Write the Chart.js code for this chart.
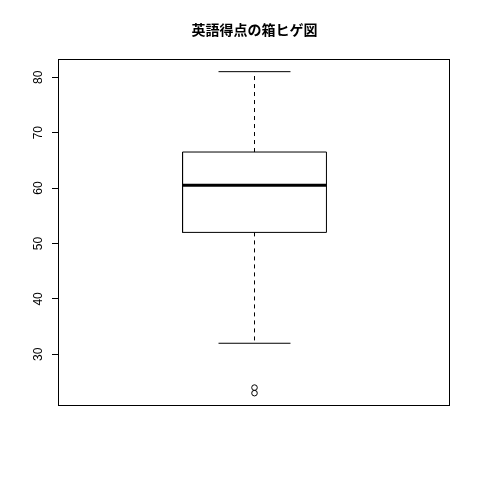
<!DOCTYPE html>
<html>
<head>
<meta charset="utf-8">
<script src="https://cdn.jsdelivr.net/npm/chart.js@4/dist/chart.umd.min.js"></script>
<style>
html,body{margin:0;padding:0;background:#fff;}
canvas{display:block;}
</style>
</head>
<body>
<canvas id="c" width="480" height="480"></canvas>
<script>
// ---- data ----
const chartTitle = '英語得点の箱ヒゲ図';
const categories = ['英語'];
const lowerWhisker = [32];
const q1 = [52];
const median = [60.5];
const q3 = [66.5];
const upperWhisker = [81];
const outliers = [[24, 23]];
const yTicks = [30, 40, 50, 60, 70, 80];
const yMin = 20.68;
const yMax = 83.32;

// ---- build datasets ----
const boxHalf = 0.184;
const capHalf = 0.092;
const datasets = [];
categories.forEach((cat, i) => {
  const c = i + 1;
  const lineBase = {showLine: true, pointRadius: 0, borderColor: '#000', borderWidth: 1, fill: false, borderCapStyle: 'butt', borderJoinStyle: 'miter'};
  datasets.push(Object.assign({}, lineBase, {label: cat + ' box', data: [
    {x: c - boxHalf, y: q1[i]}, {x: c + boxHalf, y: q1[i]}, {x: c + boxHalf, y: q3[i]},
    {x: c - boxHalf, y: q3[i]}, {x: c - boxHalf, y: q1[i]}]}));
  datasets.push(Object.assign({}, lineBase, {label: cat + ' median', borderWidth: 3, data: [
    {x: c - boxHalf, y: median[i]}, {x: c + boxHalf, y: median[i]}]}));
  datasets.push(Object.assign({}, lineBase, {label: cat + ' upper whisker', borderDash: [4, 4], data: [
    {x: c, y: q3[i]}, {x: c, y: upperWhisker[i]}]}));
  datasets.push(Object.assign({}, lineBase, {label: cat + ' lower whisker', borderDash: [4, 4], data: [
    {x: c, y: q1[i]}, {x: c, y: lowerWhisker[i]}]}));
  datasets.push(Object.assign({}, lineBase, {label: cat + ' upper cap', data: [
    {x: c - capHalf, y: upperWhisker[i]}, {x: c + capHalf, y: upperWhisker[i]}]}));
  datasets.push(Object.assign({}, lineBase, {label: cat + ' lower cap', data: [
    {x: c - capHalf, y: lowerWhisker[i]}, {x: c + capHalf, y: lowerWhisker[i]}]}));
  datasets.push({label: cat + ' outliers', showLine: false, pointStyle: 'circle', pointRadius: 2.8,
    pointBorderWidth: 1, pointBorderColor: '#000', pointBackgroundColor: 'rgba(0,0,0,0)',
    data: outliers[i].map(v => ({x: c, y: v}))});
});

const frame = {
  id: 'frame',
  afterDraw(chart) {
    const {ctx, chartArea: a} = chart;
    ctx.save();
    ctx.strokeStyle = '#000';
    ctx.lineWidth = 1;
    ctx.strokeRect(Math.round(a.left) - 0.5, Math.round(a.top) + 0.5,
      Math.round(a.right - a.left), Math.round(a.bottom - a.top) - 1);
    ctx.restore();
  }
};

Chart.defaults.font.family = '"Liberation Sans", Arial, sans-serif';
Chart.defaults.color = '#000';

new Chart(document.getElementById('c'), {
  type: 'scatter',
  data: {datasets},
  plugins: [frame],
  options: {
    responsive: false,
    animation: false,
    devicePixelRatio: 1,
    layout: {padding: {top: 0, right: 30, bottom: 74, left: 0}},
    plugins: {
      legend: {display: false},
      tooltip: {enabled: false},
      title: {
        display: true, text: chartTitle, fullSize: false, color: '#000',
        font: {family: '"Noto Sans CJK JP", sans-serif', size: 14, weight: 'bold', lineHeight: 1.2},
        padding: {top: 21, bottom: 21}
      }
    },
    scales: {
      x: {type: 'linear', min: 0.5, max: 1.5, display: false},
      y: {
        type: 'linear', min: yMin, max: yMax,
        afterBuildTicks: s => { s.ticks = yTicks.map(v => ({value: v})); },
        afterFit: s => { s.width = 59; },
        ticks: {minRotation: 90, maxRotation: 90, crossAlign: 'center', padding: 7,
          includeBounds: false, font: {size: 12}, color: '#000', autoSkip: false},
        grid: {drawOnChartArea: false, drawTicks: true, tickLength: 7, color: '#000', lineWidth: 1},
        border: {display: false}
      }
    }
  }
});
</script>
</body>
</html>
